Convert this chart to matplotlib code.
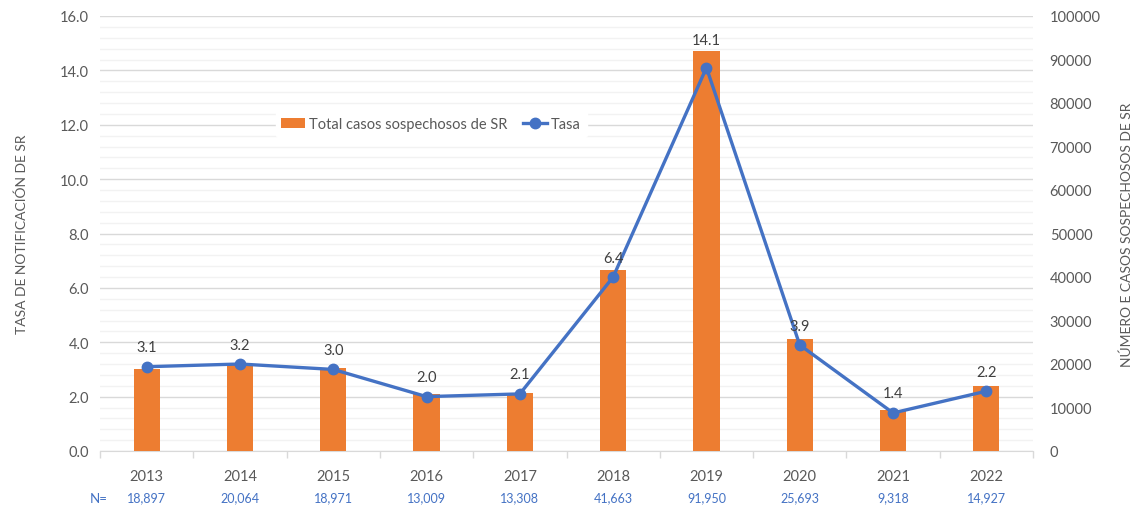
import matplotlib
matplotlib.use("Agg")
import matplotlib.pyplot as plt
from matplotlib.ticker import MultipleLocator, FixedLocator

years = ["2013", "2014", "2015", "2016", "2017", "2018", "2019", "2020", "2021", "2022"]
casos = [18897, 20064, 18971, 13009, 13308, 41663, 91950, 25693, 9318, 14927]
tasa = [3.1, 3.2, 3.0, 2.0, 2.1, 6.4, 14.1, 3.9, 1.4, 2.2]

naranja = "#ED7D31"
azul = "#4472C4"
gris = "#595959"

plt.rcParams['font.family'] = ['Lato', 'DejaVu Sans']

fig = plt.figure(figsize=(11.39, 5.06), dpi=100)
ax = fig.add_axes([100/1139, 54/506, 933/1139, 435/506])
x = list(range(len(years)))

# eje izquierdo: solo rejilla y ticks
ax.set_xlim(-0.5, len(years) - 0.5)
ax.set_ylim(0, 16)
ax.yaxis.set_major_locator(MultipleLocator(2))
ax.yaxis.set_minor_locator(MultipleLocator(0.4))
ax.grid(True, which='major', axis='y', color='#D9D9D9', lw=1)
ax.grid(True, which='minor', axis='y', color='#F2F2F2', lw=1)
ax.set_axisbelow(True)
ax.yaxis.set_major_formatter(lambda v, p: f"{v:.1f}")
ax.tick_params(axis='y', which='both', length=0, labelsize=10.5, labelcolor=gris, pad=8)
ax.set_xticks(x)
ax.set_xticklabels(years)
ax.xaxis.set_minor_locator(FixedLocator([i + 0.5 for i in range(-1, len(years))]))
ax.tick_params(axis='x', which='major', length=0, labelsize=10.5, labelcolor=gris, pad=13)
ax.tick_params(axis='x', which='minor', length=5, color='#D9D9D9', width=1)
for s in ["top", "left", "right"]:
    ax.spines[s].set_visible(False)
ax.spines["bottom"].set_color('#D9D9D9')
ax.set_ylabel("TASA DE NOTIFICACIÓN DE SR", fontsize=10, color=gris, labelpad=23)

# barras en eje derecho
ax2 = ax.twinx()
ax2.bar(x, casos, width=0.28, color=naranja, label="Total casos sospechosos de SR", zorder=2)
ax2.set_ylim(0, 100000)
ax2.yaxis.set_major_locator(MultipleLocator(10000))
ax2.tick_params(axis='y', length=0, labelsize=10.5, labelcolor=gris, pad=12)
for s in ax2.spines.values():
    s.set_visible(False)
ax2.set_ylabel("NÚMERO E CASOS SOSPECHOSOS DE SR", fontsize=10, color=gris, labelpad=14)

# linea de tasa
ax3 = ax.twinx()
ax3.set_ylim(0, 16)
ax3.plot(x, tasa, '-o', color=azul, lw=2.4, markersize=7.5, label="Tasa", zorder=3)
ax3.set_yticks([])
for s in ax3.spines.values():
    s.set_visible(False)
for xi, t in zip(x, tasa):
    dy = 20 if t == max(tasa) else 14
    ax3.annotate(f"{t:.1f}", (xi, t), textcoords="offset points", xytext=(0, dy),
                 ha='center', va='center', fontsize=10.5, color='#404040')

# fila N=
ax3.text(-0.51, -0.107, "N=", transform=ax3.get_xaxis_transform(), ha='center', va='center',
         fontsize=9.5, color=azul, clip_on=False)
for xi, n in zip(x, casos):
    ax3.text(xi, -0.107, f"{n:,}", transform=ax3.get_xaxis_transform(), ha='center', va='center',
             fontsize=9, color=azul, clip_on=False)

h2, l2 = ax2.get_legend_handles_labels()
h3, l3 = ax3.get_legend_handles_labels()
leg = ax3.legend(h2 + h3, l2 + l3, loc='center', bbox_to_anchor=(0.355, 0.752), ncol=2,
                 frameon=True, fontsize=10.5, handlelength=1.6, handletextpad=0.3,
                 columnspacing=1.1, borderpad=0.4)
leg.get_frame().set_edgecolor('white')
leg.get_frame().set_facecolor('white')
leg.get_frame().set_alpha(1)
for t in leg.get_texts():
    t.set_color(gris)

fig.savefig("out.png", dpi=100)
